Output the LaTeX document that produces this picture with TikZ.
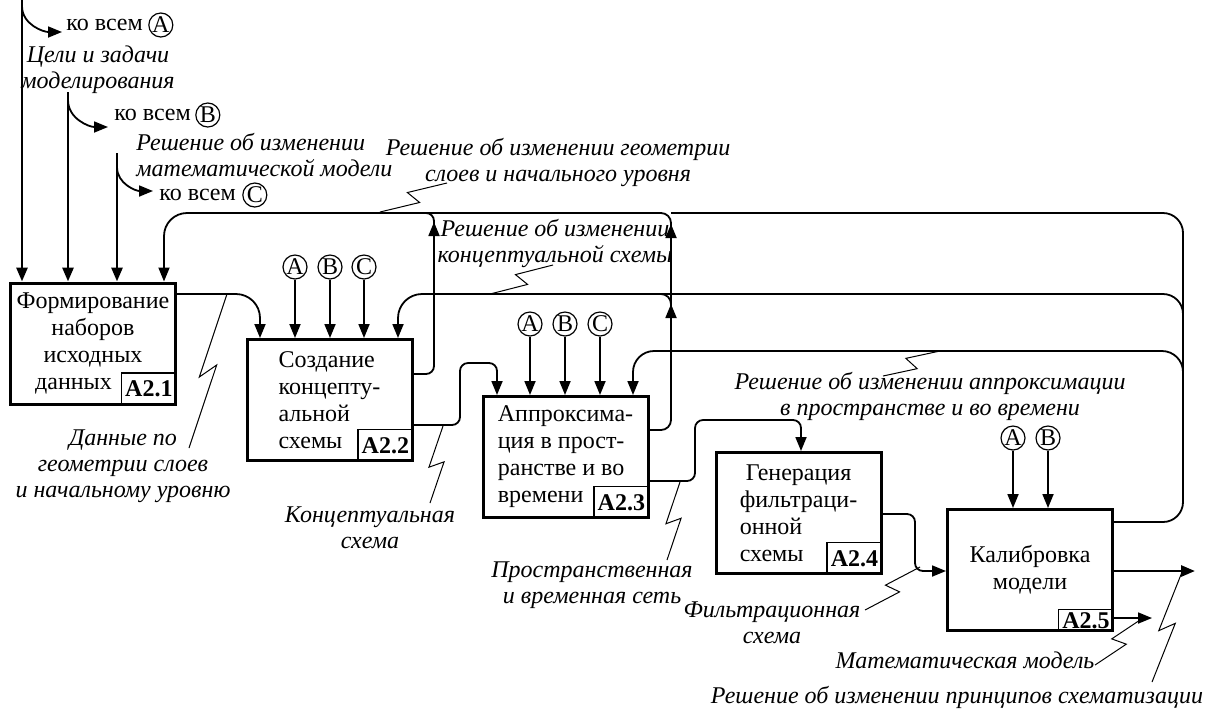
\documentclass[tikz,border=0pt]{standalone}
\usepackage{fontspec}
\setmainfont{Liberation Serif}
\usetikzlibrary{arrows.meta,calc}

\tikzset{
  proc/.style={draw, line width=1.5pt, minimum width=82.5pt, minimum height=60.5pt,
    inner sep=0pt, font=\fontsize{12}{13.5}\selectfont},
  num/.style={draw, line width=0.6pt, anchor=south east, minimum width=27.5pt,
    minimum height=16pt, inner sep=0pt, font=\fontsize{12}{13}\selectfont\bfseries},
  tag/.style={circle, draw, line width=0.6pt, minimum size=12pt, inner sep=0pt,
    font=\fontsize{12}{12}\selectfont},
  lbl/.style={align=center, inner sep=0pt, font=\fontsize{12}{13}\selectfont\itshape},
  txt/.style={inner sep=0pt, font=\fontsize{12}{13}\selectfont},
  wire/.style={line width=0.9pt},
  bold wire/.style={line width=1.4pt},
  flow/.style={wire, -{Triangle[length=7pt,width=5.5pt]}},
  zz/.style={line width=0.5pt},
}

% lightning mark between a label and its arrow
\newcommand{\squig}[2]{\draw[zz] (#1) -- ($(#1)!0.55!(#2)!3.5pt!-90:(#2)$)
  -- ($(#1)!0.45!(#2)!3.5pt!90:(#2)$) -- (#2);}

\begin{document}
\begin{tikzpicture}[x=0.5pt,y=-0.5pt]
    \useasboundingbox (0,0) rectangle (1213,709);

    % Blocks
    \node[proc, align=center] (b1) at (93,343.5) {Формирование\\наборов\\исходных\\данных\hspace*{19.5pt}};
    \node[proc, align=left] (b2) at (329.5,400) {Создание\\концепту-\\альной\\схемы};
    \node[proc, align=left] (b3) at (565.5,457) {Аппроксима-\\ция в прост-\\ранстве и во\\времени};
    \node[proc, align=left] (b4) at (798.5,513) {\hspace*{3pt}Генерация\\фильтраци-\\онной\\схемы};
    \node[proc, align=center] (b5) at (1030,570) {Калибровка\\модели};

    \node[num] (n1) at (b1.south east) {A2.1};
    \node[num] (n2) at (b2.south east) {A2.2};
    \node[num] (n3) at (b3.south east) {A2.3};
    \node[num] (n4) at (b4.south east) {A2.4};
    \node[num, minimum height=11pt] (n5) at (b5.south east) {A2.5};

    % Inputs from above
    \coordinate (in1) at (22,0);
    \coordinate (in2) at (68,92);
    \coordinate (in3) at (117,153);
    \draw[flow, bold wire] (in1) -- (in1 |- b1.north);
    \draw[flow, bold wire] (in2) -- (in2 |- b1.north);
    \draw[flow, bold wire] (in3) -- (in3 |- b1.north);

    % "to all" branches
    \node[txt, anchor=west] (k1) at (66,25) {ко всем};
    \node[tag, anchor=west] (ka) at ([xshift=2.5pt]k1.east) {A};
    \node[txt, anchor=west] (k2) at (114,115) {ко всем};
    \node[tag, anchor=west] (kb) at ([xshift=2pt]k2.east) {B};
    \node[txt, anchor=west] (k3) at (159,195) {ко всем};
    \node[tag, anchor=west] (kc) at ([xshift=3pt]k3.east) {C};
    \coordinate (ta) at (62,32);
    \coordinate (tb) at (108,127);
    \coordinate (tc) at (153,191);
    \draw[flow] (22,6) to[out=-90,in=180] (ta);
    \draw[flow] (68,100) to[out=-90,in=180] (tb);
    \draw[flow] (117,167) to[out=-90,in=180] (tc);

    % Tags above the blocks
    \node[tag] (t2a) at (295,267) {A};
    \node[tag] (t2b) at (330,267) {B};
    \node[tag] (t2c) at (364,267) {C};
    \node[tag] (t3a) at (530,324) {A};
    \node[tag] (t3b) at (565,324) {B};
    \node[tag] (t3c) at (600,324) {C};
    \node[tag] (t5a) at (1013,438) {A};
    \node[tag] (t5b) at (1048,438) {B};
    \foreach \t/\b in {t2a/b2,t2b/b2,t2c/b2,t3a/b3,t3b/b3,t3c/b3,t5a/b5,t5b/b5}
      \draw[flow] (\t) -- (\t |- \b.north);

    % Forward flows
    \draw[flow, rounded corners=12pt] (b1.east |- 0,294) -| (260,0 |- b2.north);
    \draw[flow, rounded corners=4pt] (b2.east |- 0,425) -| (460,363) -| (497,0 |- b3.north);
    \draw[flow, rounded corners=4pt] (b3.east |- 0,481) -| (695,420) -| (801,0 |- b4.north);
    \draw[flow, rounded corners=4pt] (b4.east |- 0,514) -| (915,571) -- (b5.west |- 0,571);
    \coordinate (out1) at (1195,571);
    \coordinate (out2) at (1152,618);
    \draw[flow, bold wire] (b5.east |- out1) -- (out1);
    \draw[flow] (b5.east |- out2) -- (out2);

    % Feedback to A2.1
    \draw[wire, rounded corners=10pt] (b5.east |- 0,522) -| (1183,213) -- (671,213);
    \draw[wire, rounded corners=5pt] (b3.east |- 0,430) -| (671,213) -- (434,213);
    \draw[wire, rounded corners=4pt] (b2.east |- 0,374) -| (434,213) -- (400,213);
    \draw[flow, rounded corners=11.5pt] (434,213) -| (164,0 |- b1.north);
    \draw[flow] (434,250) -- (434,222);
    \draw[flow] (671,250) -- (671,224);

    % Feedback to A2.2
    \draw[wire, rounded corners=10pt] (1183,330) |- (671,294);
    \draw[wire, rounded corners=5pt] (671,330) |- (640,294);
    \draw[flow, rounded corners=12pt] (671,294) -| (398,0 |- b2.north);
    \draw[flow] (671,335) -- (671,304);

    % Feedback to A2.3
    \draw[flow, rounded corners=10.5pt] (1183,380) |- (633,351) -- (633,0 |- b3.north);

    % Labels
    \node[lbl] (goals) at (98,70) {Цели и задачи\\моделирования};
    \node[lbl, align=left, anchor=west] (mathdec) at (136,155) {Решение об изменении\\математической модели};
    \node[lbl] (geomdec) at (558,162) {Решение об изменении геометрии\\слоев и начального уровня};
    \node[lbl] (concdec) at (555,243) {Решение об изменении\\концептуальной схемы};
    \node[lbl] (apprdec) at (930,396) {Решение об изменении аппроксимации\\в пространстве и во времени};
    \node[lbl] (data) at (123,466) {Данные по\\геометрии слоев\\и начальному уровню};
    \node[lbl] (concout) at (370,528) {Концептуальная\\схема};
    \node[lbl] (gridout) at (592,585) {Пространственная\\и временная сеть};
    \node[lbl] (filtout) at (772,623) {Фильтрационная\\схема};
    \node[lbl] (modelout) at (965,660) {Математическая модель};
    \node[lbl] (princdec) at (957,697) {Решение об изменении принципов схематизации};

    % Label marks
    \coordinate (z1a) at (227,294);   \coordinate (z1b) at (189,448);
    \coordinate (z2a) at (380,212);   \coordinate (z2b) at (447,183);
    \coordinate (z3a) at (490,294);   \coordinate (z3b) at (553,265);
    \coordinate (z4a) at (940,351);   \coordinate (z4b) at (883,376);
    \coordinate (z5a) at (443,426);   \coordinate (z5b) at (430,503);
    \coordinate (z6a) at (680,482);   \coordinate (z6b) at (667,560);
    \coordinate (z7a) at (920,567);   \coordinate (z7b) at (865,610);
    \coordinate (z8a) at (1143,618);  \coordinate (z8b) at (1095,665);
    \coordinate (z9a) at (1182,572);  \coordinate (z9b) at (1152,682);
    \foreach \i in {1,...,9} {
        \squig{z\i a}{z\i b}
      }
\end{tikzpicture}
\end{document}
